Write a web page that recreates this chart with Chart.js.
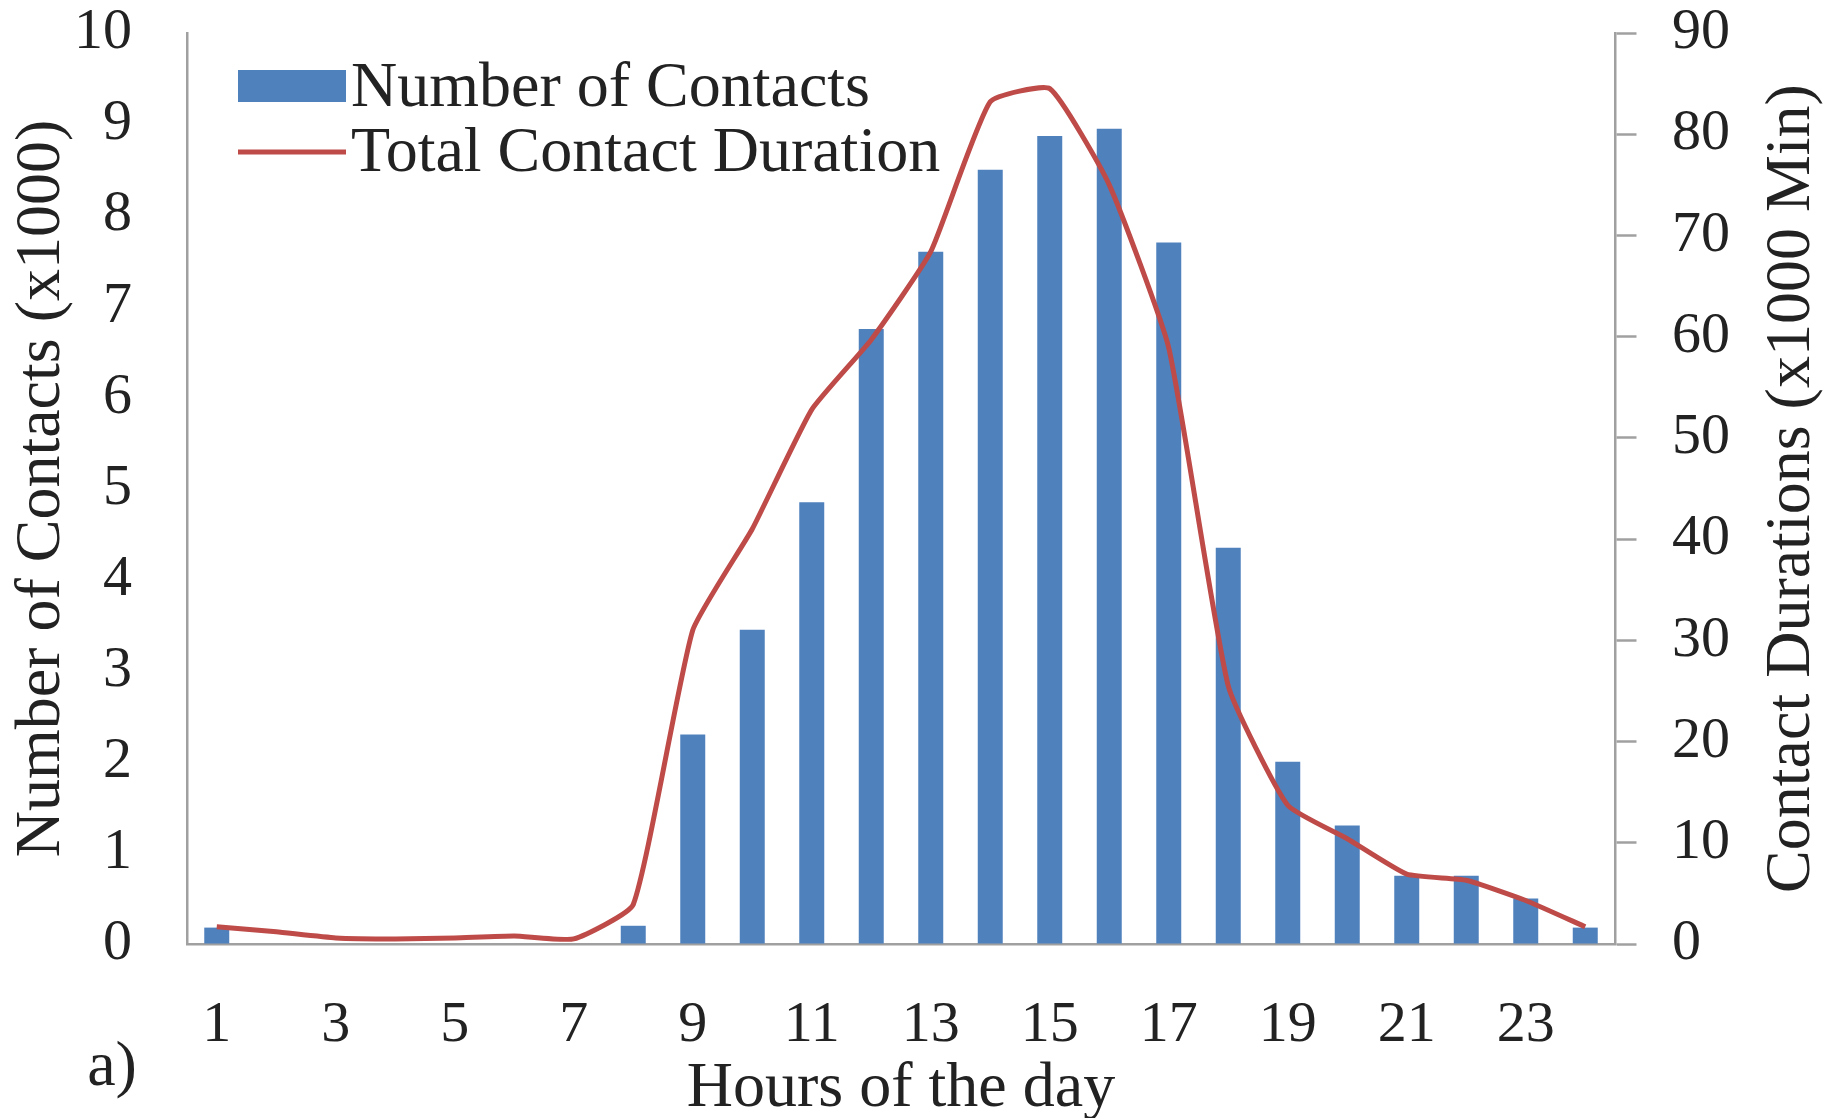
<!DOCTYPE html>
<html>
<head>
<meta charset="utf-8">
<script src="https://cdn.jsdelivr.net/npm/chart.js@4/dist/chart.umd.min.js"></script>
<style>
  html, body { margin: 0; padding: 0; background: #fff; }
  #wrap { width: 1825px; height: 1118px; position: relative; }
</style>
</head>
<body>
<div id="wrap"><canvas id="grafica"></canvas></div>
<script>
// Horas del día 1..24
const horas = ['1','2','3','4','5','6','7','8','9','10','11','12','13','14','15','16','17','18','19','20','21','22','23','24'];
// Número de contactos (x1000)
const contactos = [0.18, 0, 0, 0, 0, 0, 0, 0.2, 2.3, 3.45, 4.85, 6.75, 7.6, 8.5, 8.87, 8.95, 7.7, 4.35, 2.0, 1.3, 0.75, 0.75, 0.5, 0.18];
// Duración total de contactos (x1000 Min)
const duracion = [1.7, 1.2, 0.6, 0.5, 0.6, 0.8, 0.5, 3.9, 31, 41, 52.8, 59.7, 68.4, 83.2, 84.5, 75, 58.9, 25.5, 13.7, 10.4, 6.9, 6.3, 4.3, 1.7];

const FUENTE = '"Liberation Serif", "Times New Roman", serif';
const TEXTO = '#222';
const EJE = '#a0a0a0';

// leyenda dentro del área de dibujo + etiqueta "a)" + título del eje derecho
const extras = {
    id: 'extras',
    afterDraw(chart) {
        const ctx = chart.ctx;
        const ds = chart.data.datasets;
        ctx.save();
        ctx.font = '64px ' + FUENTE;
        ctx.fillStyle = TEXTO;
        ctx.textBaseline = 'middle';
        ctx.textAlign = 'left';

        // fila 1: barras
        ctx.fillStyle = ds[0].backgroundColor;
        ctx.fillRect(238, 70, 108, 32);
        ctx.fillStyle = TEXTO;
        ctx.fillText(ds[0].label, 351, 89);

        // fila 2: línea
        ctx.strokeStyle = ds[1].borderColor;
        ctx.lineWidth = 5;
        ctx.beginPath();
        ctx.moveTo(238, 152);
        ctx.lineTo(346, 152);
        ctx.stroke();
        ctx.fillText(ds[1].label, 351, 154);

        // etiqueta del panel
        ctx.textAlign = 'center';
        ctx.fillText('a)', 112, 1068);

        // título eje derecho (lectura de abajo hacia arriba)
        const area = chart.chartArea;
        ctx.translate(1792, (area.top + area.bottom) / 2);
        ctx.rotate(-Math.PI / 2);
        ctx.fillText('Contact Durations (x1000 Min)', 0, 0);
        ctx.restore();
    }
};

const ctx = document.getElementById('grafica').getContext('2d');
new Chart(ctx, {
    type: 'bar',
    data: {
        labels: horas,
        datasets: [
            {
                type: 'bar',
                label: 'Number of Contacts',
                data: contactos,
                backgroundColor: '#4f81bd',
                barPercentage: 0.42,
                categoryPercentage: 1,
                yAxisID: 'y',
                order: 2
            },
            {
                type: 'line',
                label: 'Total Contact Duration',
                data: duracion,
                borderColor: '#be4b48',
                borderWidth: 5,
                pointRadius: 0,
                tension: 0.15,
                fill: false,
                yAxisID: 'y1',
                order: 1
            }
        ]
    },
    options: {
        responsive: true,
        maintainAspectRatio: false,
        animation: false,
        layout: { padding: { top: 33, left: 0, right: 0, bottom: 0 } },
        plugins: {
            legend: { display: false },
            tooltip: { enabled: false }
        },
        scales: {
            x: {
                offset: true,
                grid: { display: true, drawOnChartArea: false, drawTicks: false },
                border: { display: true, color: EJE, width: 2.5 },
                ticks: {
                    autoSkip: false,
                    maxRotation: 0,
                    padding: 53,
                    color: TEXTO,
                    font: { family: FUENTE, size: 58, lineHeight: 1 },
                    callback: function(value, index) { return index % 2 === 0 ? this.getLabelForValue(value) : ''; }
                },
                title: {
                    display: true,
                    text: 'Hours of the day',
                    color: TEXTO,
                    padding: { top: 0, bottom: -3 },
                    font: { family: FUENTE, size: 64, lineHeight: 1 }
                },
                afterFit(scale) { scale.height = 174; }
            },
            y: {
                position: 'left',
                min: 0,
                max: 10,
                // marca invisible para separar las etiquetas del eje sin inflar el relleno superior
                grid: { display: true, drawOnChartArea: false, drawTicks: true, tickLength: 55, tickColor: 'rgba(0,0,0,0)' },
                border: { display: true, color: EJE, width: 2.5 },
                ticks: {
                    stepSize: 1,
                    padding: 0,
                    color: TEXTO,
                    font: { family: FUENTE, size: 58, lineHeight: 1 }
                },
                title: {
                    display: true,
                    text: 'Number of Contacts (x1000)',
                    color: TEXTO,
                    padding: { top: 10, bottom: 0 },
                    font: { family: FUENTE, size: 64, lineHeight: 1 }
                },
                afterFit(scale) { scale.width = 187; }
            },
            y1: {
                position: 'right',
                min: 0,
                max: 90,
                // sólo los primeros 20 px de la marca se ven
                grid: { display: true, drawOnChartArea: false, drawTicks: true, tickLength: 57, tickColor: EJE, tickWidth: 2.5, tickBorderDash: [20, 80] },
                border: { display: true, color: EJE, width: 2.5 },
                ticks: {
                    stepSize: 10,
                    padding: 0,
                    color: TEXTO,
                    font: { family: FUENTE, size: 58, lineHeight: 1 }
                },
                afterFit(scale) { scale.width = 210; }
            }
        }
    },
    plugins: [extras]
});
</script>
</body>
</html>
